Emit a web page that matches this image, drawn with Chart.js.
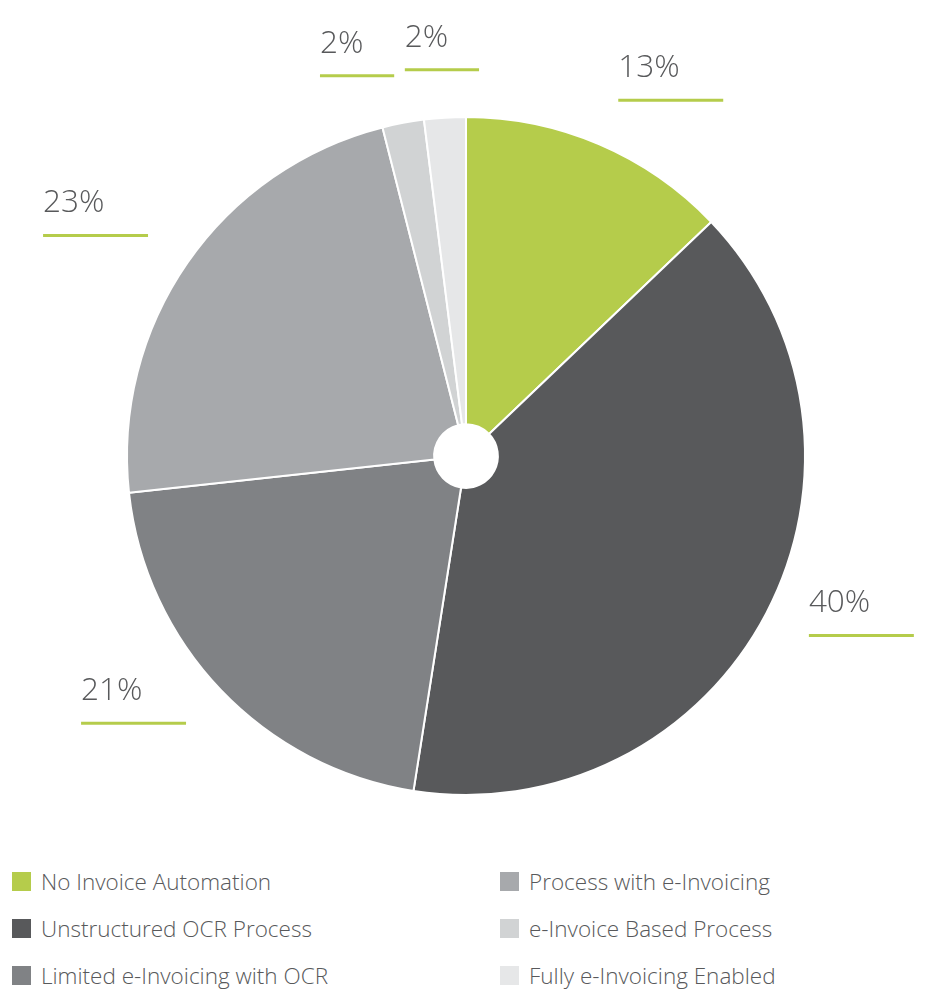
<!DOCTYPE html>
<html>
<head>
<meta charset="utf-8">
<script src="https://cdn.jsdelivr.net/npm/chart.js@4/dist/chart.umd.min.js"></script>
<style>
  html, body { margin: 0; padding: 0; background: #fff; }
  #wrap { position: relative; width: 936px; height: 990px; }
  #chartBox { position: absolute; left: 0; top: 0; width: 936px; height: 858px; }
  #legend {
    position: absolute; left: 12px; top: 858px; width: 924px;
    display: grid; grid-template-columns: 488px 436px;
    grid-template-rows: repeat(3, 47px); grid-auto-flow: column;
    font-family: "Open Sans", sans-serif; font-weight: 300; font-size: 22.5px; color: #58595b;
  }
  #legend .item { display: flex; align-items: center; }
  #legend .box { width: 19px; height: 19px; margin-right: 10px; flex: none; }
</style>
</head>
<body>
<div id="wrap">
  <div id="chartBox"><canvas id="pie"></canvas></div>
  <div id="legend"></div>
</div>
<script>
// categories and shares (%)
const categories = [
  'No Invoice Automation',
  'Unstructured OCR Process',
  'Limited e-Invoicing with OCR',
  'Process with e-Invoicing',
  'e-Invoice Based Process',
  'Fully e-Invoicing Enabled'
];
const shares = [13, 40, 21, 23, 2, 2];
const sliceColors = ['#b5cc4b', '#58595b', '#808285', '#a7a9ac', '#d1d3d4', '#e6e7e8'];

// draws "NN%" labels with a green underline outside each slice
const outsideLabels = {
  id: 'outsideLabels',
  afterDatasetsDraw(chart) {
    const ctx = chart.ctx;
    const meta = chart.getDatasetMeta(0);
    const data = chart.data.datasets[0].data;
    ctx.save();
    ctx.font = '300 31.5px "Open Sans", sans-serif';
    ctx.textBaseline = 'alphabetic';
    ctx.textAlign = 'left';
    meta.data.forEach((arc, i) => {
      const p = arc.getProps(['x', 'y', 'startAngle', 'endAngle', 'outerRadius'], true);
      const mid = (p.startAngle + p.endAngle) / 2;
      const r = p.outerRadius + 48;
      const ax = p.x + Math.cos(mid) * r;
      const ay = p.y + Math.sin(mid) * r;
      const txt = data[i] + '%';
      const w = ctx.measureText(txt).width;
      const len = w * 1.71;
      let x0;
      if (Math.cos(mid) > 0.1) x0 = ax;
      else if (Math.cos(mid) < -0.1) x0 = ax - len;
      else x0 = ax - len / 2;

      ctx.strokeStyle = '#b5cc4b';
      ctx.lineWidth = 3;
      ctx.beginPath();
      ctx.moveTo(x0, ay);
      ctx.lineTo(x0 + len, ay);
      ctx.stroke();

      ctx.fillStyle = '#58595b';
      ctx.fillText(txt, x0, ay - 23);
    });
    ctx.restore();
  }
};

const chart = new Chart(document.getElementById('pie'), {
  type: 'doughnut',
  data: {
    labels: categories,
    datasets: [{
      data: shares,
      backgroundColor: sliceColors,
      borderColor: '#ffffff',
      borderWidth: 2
    }]
  },
  options: {
    responsive: true,
    maintainAspectRatio: false,
    animation: false,
    cutout: '9.4%',
    layout: { padding: { top: 116, bottom: 62, left: 0, right: 4 } },
    plugins: {
      legend: { display: false },
      tooltip: { enabled: false }
    }
  },
  plugins: [outsideLabels]
});

// html legend, filled column by column
const legendEl = document.getElementById('legend');
chart.options.plugins.legend.labels.generateLabels(chart).forEach(item => {
  const row = document.createElement('div');
  row.className = 'item';
  const box = document.createElement('span');
  box.className = 'box';
  box.style.background = item.fillStyle;
  const label = document.createElement('span');
  label.textContent = item.text;
  row.appendChild(box);
  row.appendChild(label);
  legendEl.appendChild(row);
});
</script>
</body>
</html>
